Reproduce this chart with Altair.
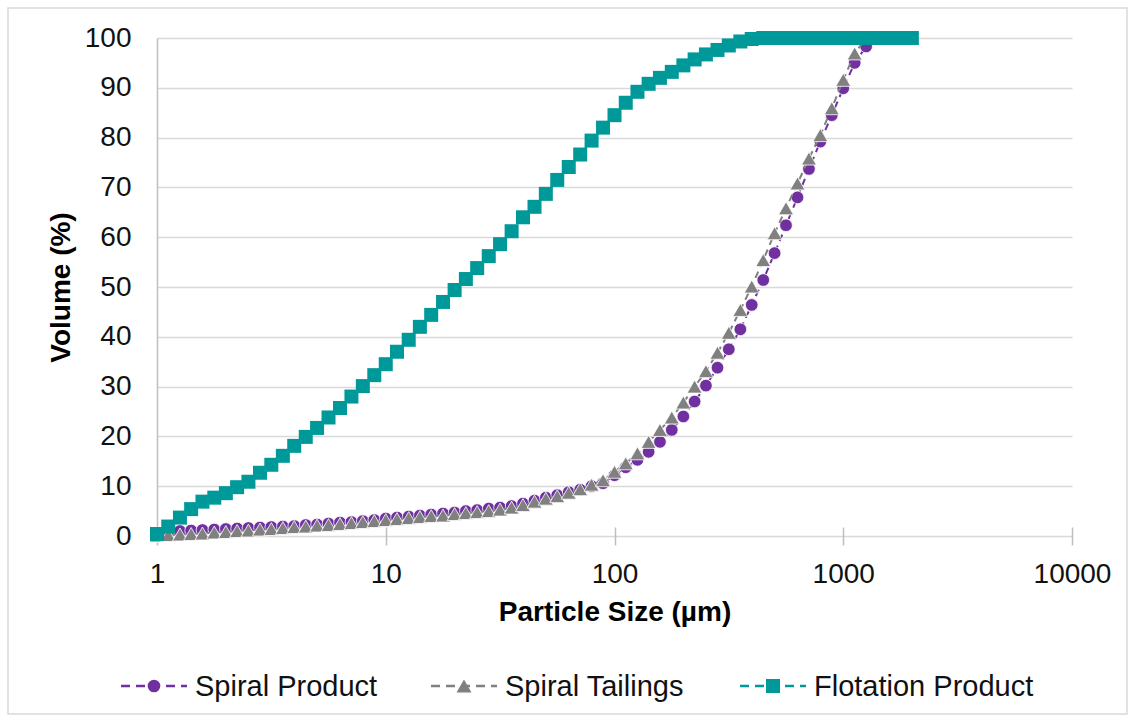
import altair as alt
import pandas as pd

# Particle size classes (µm), log-spaced
sizes = [1.00, 1.12, 1.26, 1.41, 1.58, 1.78, 2.00, 2.24, 2.51, 2.82,
         3.16, 3.55, 3.98, 4.47, 5.01, 5.62, 6.31, 7.08, 7.94, 8.91,
         10.0, 11.2, 12.6, 14.1, 15.8, 17.8, 20.0, 22.4, 25.1, 28.2,
         31.6, 35.5, 39.8, 44.7, 50.1, 56.2, 63.1, 70.8, 79.4, 89.1,
         100, 112, 126, 141, 158, 178, 200, 224, 251, 282,
         316, 355, 398, 447, 501, 562, 631, 708, 794, 891,
         1000, 1122, 1259, 1413, 1585, 1778, 1995]

spiral_product = [0.5, 0.8, 1.0, 1.1, 1.2, 1.3, 1.4, 1.5, 1.6, 1.7,
                  1.8, 1.9, 2.0, 2.2, 2.3, 2.5, 2.7, 2.8, 3.0, 3.2,
                  3.5, 3.7, 3.9, 4.1, 4.3, 4.5, 4.7, 5.0, 5.2, 5.5,
                  5.7, 6.0, 6.5, 7.1, 7.7, 8.2, 8.8, 9.3, 10.0, 10.6,
                  12.2, 13.8, 15.3, 16.9, 18.9, 21.3, 24.0, 27.0, 30.2, 33.8,
                  37.5, 41.5, 46.4, 51.4, 56.8, 62.4, 68.0, 73.7, 79.2, 84.5,
                  89.9, 95.0, 98.3, 100, 100, 100, 100]

spiral_tailings = [0.1, 0.2, 0.3, 0.4, 0.5, 0.7, 0.8, 1.0, 1.1, 1.3,
                   1.4, 1.6, 1.8, 1.9, 2.1, 2.2, 2.4, 2.6, 2.8, 3.0,
                   3.2, 3.4, 3.6, 3.8, 4.0, 4.1, 4.4, 4.6, 4.8, 5.0,
                   5.3, 5.7, 6.2, 6.9, 7.5, 8.0, 8.7, 9.4, 10.3, 11.2,
                   12.9, 14.6, 16.6, 18.9, 21.3, 23.8, 26.8, 30.0, 33.1, 36.8,
                   40.8, 45.4, 50.1, 55.4, 60.8, 65.8, 70.8, 75.8, 80.5, 85.9,
                   91.6, 96.9, 100, 100, 100, 100, 100]

flotation_product = [0.4, 1.9, 3.7, 5.4, 6.9, 7.7, 8.6, 9.8, 10.9, 12.7,
                     14.3, 16.1, 18.1, 19.9, 21.7, 23.8, 25.7, 28.0, 30.1, 32.3,
                     34.5, 37.0, 39.4, 42.0, 44.4, 47.0, 49.4, 51.6, 53.8, 56.2,
                     58.6, 61.2, 64.0, 66.1, 68.7, 71.5, 74.1, 76.6, 79.4, 82.0,
                     84.5, 87.0, 89.2, 90.8, 92.0, 93.2, 94.5, 95.7, 96.7, 97.6,
                     98.5, 99.3, 99.8, 100, 100, 100, 100, 100, 100, 100,
                     100, 100, 100, 100, 100, 100, 100]

series_names = ["Spiral Product", "Spiral Tailings", "Flotation Product"]
series_values = [spiral_product, spiral_tailings, flotation_product]
colors = ["#7030A0", "#808080", "#009999"]
shapes = ["circle", "triangle-up", "square"]
marker_sizes = [160, 225, 196]
marker_strokes = [0.8, 0.8, 0]

x_ticks = [1, 10, 100, 1000, 10000]
y_ticks = list(range(0, 101, 10))

rows = []
for name, vals in zip(series_names, series_values):
    for s, v in zip(sizes, vals):
        rows.append({"size": s, "volume": v, "series": name})
df = pd.DataFrame(rows)

FONT = "Liberation Sans"
W, H = 915, 498

x_enc = alt.X(
    "size:Q",
    scale=alt.Scale(type="log", domain=[1, 10000], nice=False),
    axis=alt.Axis(
        values=x_ticks, format="d", title="Particle Size (µm)", grid=False,
        domain=False, ticks=True, tickSize=18, offset=-9, tickColor="#BFBFBF",
        tickWidth=1.5, labelPadding=15, labelFontSize=28, labelFont=FONT,
        labelColor="#111111", titleFont=FONT, titleFontSize=28,
        titleFontWeight="bold", titleColor="#000000", titlePadding=10,
        labelFlush=False,
    ),
)
y_enc = alt.Y(
    "volume:Q",
    scale=alt.Scale(domain=[0, 100], nice=False),
    axis=alt.Axis(
        values=y_ticks, title="Volume (%)", grid=True, gridColor="#D9D9D9",
        gridWidth=1.5, domain=True, domainColor="#BFBFBF", domainWidth=1.5,
        ticks=False, labelPadding=26, labelFontSize=28, labelFont=FONT,
        labelColor="#111111", titleFont=FONT, titleFontSize=28,
        titleFontWeight="bold", titleColor="#000000", titlePadding=9,
    ),
)
color_scale = alt.Scale(domain=series_names, range=colors)

base = alt.Chart(df).encode(
    x=x_enc, y=y_enc,
    color=alt.Color("series:N", scale=color_scale, legend=None),
)

one_row = alt.Data(values=[{"a": 1}])

layers = []
# outer border of the chart area
layers.append(
    alt.Chart(one_row).mark_rect(
        fill="transparent", stroke="#D9D9D9", strokeWidth=1.5
    ).encode(x=alt.value(-149), x2=alt.value(970), y=alt.value(-30), y2=alt.value(676))
)
for name, shp, msz, mst in zip(series_names, shapes, marker_sizes, marker_strokes):
    sub = base.transform_filter(alt.datum.series == name)
    layers.append(sub.mark_line(strokeDash=[7, 5], strokeWidth=2))
    layers.append(sub.mark_point(filled=True, shape=shp, size=msz, opacity=1,
                                 stroke="white", strokeWidth=mst))

# legend (bottom), drawn as a key: dashed line + marker + label
legend_left = [-36, 274, 583]   # left end of each key line, px from plot origin
key_len = 66
legend_y = 648
for name, col, shp, msz, lx in zip(series_names, colors, shapes, marker_sizes, legend_left):
    layers.append(
        alt.Chart(one_row).mark_rule(color=col, strokeWidth=2.5, strokeDash=[9, 6]).encode(
            x=alt.value(lx), x2=alt.value(lx + key_len), y=alt.value(legend_y))
    )
    layers.append(
        alt.Chart(one_row).mark_point(filled=True, shape=shp, size=msz, opacity=1,
                                      color=col).encode(
            x=alt.value(lx + key_len / 2), y=alt.value(legend_y))
    )
    layers.append(
        alt.Chart(one_row).mark_text(align="left", baseline="middle", fontSize=29,
                                     font=FONT, color="#111111", text=name).encode(
            x=alt.value(lx + key_len + 8), y=alt.value(legend_y + 1))
    )

chart = alt.layer(*layers).properties(
    width=W, height=H,
    autosize=alt.AutoSizeParams(type="none"),
    padding={"left": 157, "top": 38, "right": 63, "bottom": 186},
    background="white",
).configure_view(stroke=None)

chart.save("out.html", embed_options={"renderer": "svg", "actions": False})
